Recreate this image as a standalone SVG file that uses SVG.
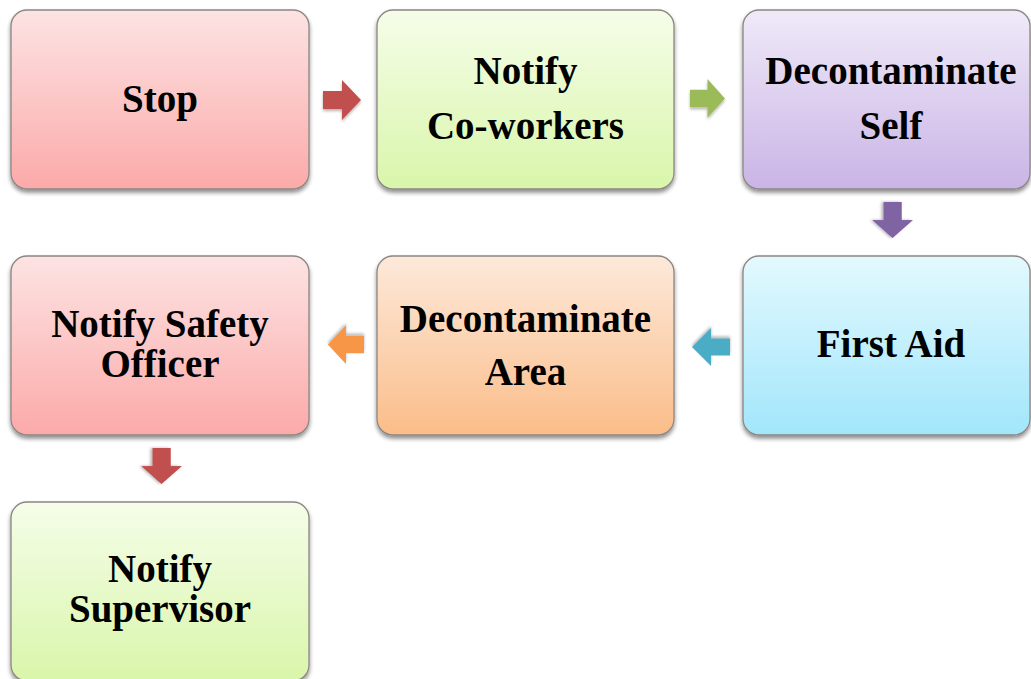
<svg xmlns="http://www.w3.org/2000/svg" width="1031" height="679" viewBox="0 0 1031 679">
  <defs>
    <linearGradient id="gRed" x1="0" y1="0" x2="0" y2="1">
      <stop offset="0" stop-color="#fde3e3"/>
      <stop offset="1" stop-color="#fbaaa9"/>
    </linearGradient>
    <linearGradient id="gGreen" x1="0" y1="0" x2="0" y2="1">
      <stop offset="0" stop-color="#f5fde9"/>
      <stop offset="1" stop-color="#d9f6aa"/>
    </linearGradient>
    <linearGradient id="gPurple" x1="0" y1="0" x2="0" y2="1">
      <stop offset="0" stop-color="#efeaf8"/>
      <stop offset="1" stop-color="#cab4e6"/>
    </linearGradient>
    <linearGradient id="gOrange" x1="0" y1="0" x2="0" y2="1">
      <stop offset="0" stop-color="#fde9da"/>
      <stop offset="1" stop-color="#fbbd89"/>
    </linearGradient>
    <linearGradient id="gBlue" x1="0" y1="0" x2="0" y2="1">
      <stop offset="0" stop-color="#e3f9fe"/>
      <stop offset="1" stop-color="#a2e6fb"/>
    </linearGradient>
    <filter id="shadow" x="-10%" y="-10%" width="120%" height="125%">
      <feGaussianBlur in="SourceAlpha" stdDeviation="2"/>
      <feOffset dy="2.5" result="b"/>
      <feComponentTransfer><feFuncA type="linear" slope="0.45"/></feComponentTransfer>
      <feMerge><feMergeNode/><feMergeNode in="SourceGraphic"/></feMerge>
    </filter>
    <filter id="ashadow" x="-20%" y="-20%" width="140%" height="150%">
      <feGaussianBlur in="SourceAlpha" stdDeviation="1.5"/>
      <feOffset dy="2"/>
      <feComponentTransfer><feFuncA type="linear" slope="0.3"/></feComponentTransfer>
      <feMerge><feMergeNode/><feMergeNode in="SourceGraphic"/></feMerge>
    </filter>
    <!-- right-pointing block arrow, 38 x 40 -->
    <path id="arrow" d="M0,11 H19 V0 L38,20 L19,40 V29 H0 Z"/>
  </defs>
  <style>
    .box { stroke: #8c8682; stroke-width: 1.3; filter: url(#shadow); }
    .lbl { font-family: "Liberation Serif", "Times New Roman", serif; font-weight: bold; font-size: 39px; fill: #000; text-anchor: middle; }
    .arr { filter: url(#ashadow); }
  </style>

  <rect width="1031" height="679" fill="#ffffff"/>

  <g id="n-stop">
    <rect class="box" x="11" y="10" width="298" height="179" rx="16" fill="url(#gRed)"/>
    <text class="lbl" x="160" y="112">Stop</text>
  </g>
  <g id="n-notify-coworkers">
    <rect class="box" x="377" y="10" width="297" height="179" rx="16" fill="url(#gGreen)"/>
    <text class="lbl" x="525.5" y="84">Notify</text>
    <text class="lbl" x="525.5" y="139">Co-workers</text>
  </g>
  <g id="n-decon-self">
    <rect class="box" x="743" y="10" width="287" height="179" rx="16" fill="url(#gPurple)"/>
    <text class="lbl" x="891" y="84">Decontaminate</text>
    <text class="lbl" x="891" y="139">Self</text>
  </g>
  <g id="n-first-aid">
    <rect class="box" x="743" y="256" width="287" height="179" rx="16" fill="url(#gBlue)"/>
    <text class="lbl" x="891" y="357">First Aid</text>
  </g>
  <g id="n-decon-area">
    <rect class="box" x="377" y="256" width="297" height="179" rx="16" fill="url(#gOrange)"/>
    <text class="lbl" x="525.5" y="332">Decontaminate</text>
    <text class="lbl" x="525.5" y="385">Area</text>
  </g>
  <g id="n-notify-safety">
    <rect class="box" x="11" y="256" width="298" height="179" rx="16" fill="url(#gRed)"/>
    <text class="lbl" x="160" y="337">Notify Safety</text>
    <text class="lbl" x="160" y="377">Officer</text>
  </g>
  <g id="n-notify-supervisor">
    <rect class="box" x="11" y="502" width="298" height="179" rx="16" fill="url(#gGreen)"/>
    <text class="lbl" x="160" y="582">Notify</text>
    <text class="lbl" x="160" y="622">Supervisor</text>
  </g>

  <g id="connectors">
    <use href="#arrow" class="arr" fill="#c0504d" transform="translate(323,80)"/>
    <use href="#arrow" class="arr" fill="#9bbb59" transform="translate(690,79) scale(0.92,0.97)"/>
    <use href="#arrow" class="arr" fill="#8064a2" transform="translate(913,202) rotate(90) scale(0.95,1.02)"/>
    <use href="#arrow" class="arr" fill="#4bacc6" transform="translate(730,366) rotate(180) scale(1,0.95)"/>
    <use href="#arrow" class="arr" fill="#f79646" transform="translate(364,364) rotate(180) scale(0.95,0.97)"/>
    <use href="#arrow" class="arr" fill="#c0504d" transform="translate(182,448) rotate(90) scale(0.95,1.02)"/>
  </g>
</svg>
